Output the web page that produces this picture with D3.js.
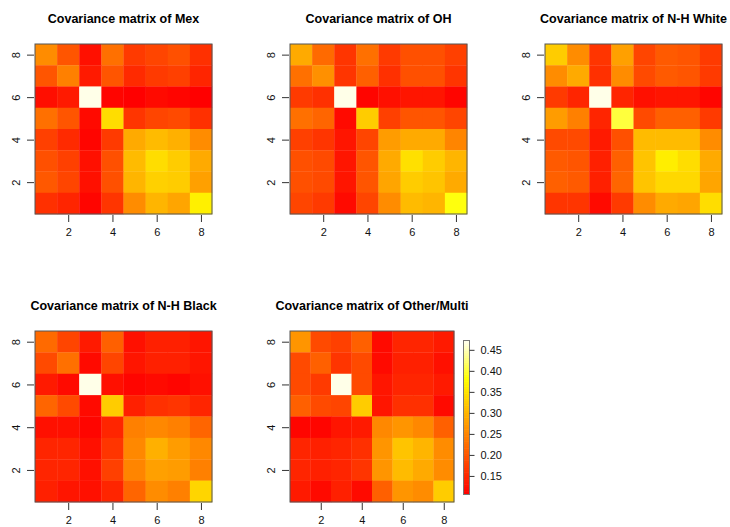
<!DOCTYPE html>
<html>
<head>
<meta charset="utf-8">
<script src="https://cdn.jsdelivr.net/npm/d3@7"></script>
<style>
  body { margin: 0; background: #fff; }
  text { font-family: "Liberation Sans", Arial, sans-serif; }
</style>
</head>
<body>
<svg id="chart" width="730" height="527"></svg>
<script>
// Covariance values, one array per panel, rows listed from top (y = 8) to bottom (y = 1)
const groups = ["Mex", "OH", "N-H White", "N-H Black", "Other/Multi"];

const covMex = [
  [0.257, 0.198, 0.124, 0.227, 0.169, 0.181, 0.193, 0.158],
  [0.198, 0.244, 0.135, 0.198, 0.152, 0.169, 0.175, 0.147],
  [0.122, 0.135, 0.468, 0.112, 0.107, 0.118, 0.112, 0.107],
  [0.227, 0.198, 0.118, 0.344, 0.164, 0.181, 0.186, 0.158],
  [0.175, 0.152, 0.112, 0.169, 0.289, 0.307, 0.295, 0.257],
  [0.193, 0.175, 0.124, 0.193, 0.307, 0.344, 0.325, 0.289],
  [0.201, 0.181, 0.124, 0.193, 0.301, 0.330, 0.325, 0.278],
  [0.158, 0.147, 0.112, 0.164, 0.257, 0.301, 0.284, 0.364]
];
const covOH = [
  [0.289, 0.220, 0.164, 0.227, 0.169, 0.193, 0.193, 0.175],
  [0.227, 0.261, 0.164, 0.210, 0.158, 0.193, 0.193, 0.164],
  [0.169, 0.158, 0.468, 0.112, 0.124, 0.129, 0.129, 0.112],
  [0.227, 0.215, 0.118, 0.325, 0.175, 0.198, 0.198, 0.181],
  [0.175, 0.164, 0.129, 0.181, 0.274, 0.289, 0.289, 0.249],
  [0.193, 0.186, 0.129, 0.198, 0.289, 0.347, 0.325, 0.301],
  [0.193, 0.186, 0.129, 0.198, 0.284, 0.325, 0.317, 0.289],
  [0.181, 0.169, 0.118, 0.181, 0.257, 0.307, 0.301, 0.385]
];
const covWhite = [
  [0.325, 0.257, 0.164, 0.278, 0.181, 0.203, 0.198, 0.169],
  [0.257, 0.289, 0.158, 0.257, 0.186, 0.203, 0.198, 0.169],
  [0.169, 0.147, 0.468, 0.147, 0.124, 0.129, 0.129, 0.112],
  [0.274, 0.244, 0.147, 0.403, 0.186, 0.210, 0.210, 0.169],
  [0.186, 0.186, 0.135, 0.193, 0.307, 0.307, 0.307, 0.257],
  [0.203, 0.198, 0.141, 0.210, 0.317, 0.362, 0.344, 0.289],
  [0.210, 0.203, 0.141, 0.215, 0.317, 0.338, 0.338, 0.284],
  [0.164, 0.164, 0.118, 0.169, 0.257, 0.289, 0.284, 0.344]
];
const covBlack = [
  [0.220, 0.181, 0.135, 0.210, 0.124, 0.141, 0.141, 0.129],
  [0.186, 0.227, 0.118, 0.181, 0.129, 0.141, 0.141, 0.129],
  [0.135, 0.118, 0.468, 0.124, 0.112, 0.118, 0.112, 0.124],
  [0.215, 0.186, 0.118, 0.325, 0.141, 0.158, 0.164, 0.147],
  [0.124, 0.124, 0.112, 0.147, 0.244, 0.253, 0.244, 0.215],
  [0.147, 0.147, 0.124, 0.164, 0.253, 0.295, 0.274, 0.253],
  [0.147, 0.147, 0.124, 0.175, 0.249, 0.278, 0.274, 0.244],
  [0.141, 0.129, 0.124, 0.147, 0.215, 0.257, 0.244, 0.335]
];
const covOther = [
  [0.266, 0.186, 0.175, 0.210, 0.118, 0.147, 0.147, 0.135],
  [0.186, 0.210, 0.164, 0.186, 0.118, 0.141, 0.141, 0.124],
  [0.186, 0.169, 0.468, 0.186, 0.129, 0.147, 0.147, 0.135],
  [0.210, 0.186, 0.181, 0.325, 0.129, 0.158, 0.158, 0.118],
  [0.112, 0.112, 0.129, 0.135, 0.253, 0.266, 0.253, 0.210],
  [0.147, 0.141, 0.147, 0.158, 0.266, 0.317, 0.301, 0.257],
  [0.147, 0.141, 0.147, 0.164, 0.266, 0.307, 0.289, 0.257],
  [0.135, 0.118, 0.141, 0.118, 0.210, 0.266, 0.257, 0.325]
];

const matrices = [covMex, covOH, covWhite, covBlack, covOther];
const axisTicks = [2, 4, 6, 8];
const legendTicks = [0.15, 0.20, 0.25, 0.30, 0.35, 0.40, 0.45];
const zRange = [0.107, 0.471];

//panel boxes in pixels
const panels = [
  {x0: 35, x1: 212, y0: 44, y1: 214},
  {x0: 290, x1: 467, y0: 44, y1: 214},
  {x0: 545, x1: 722, y0: 44, y1: 214},
  {x0: 35, x1: 212, y0: 331, y1: 502},
  {x0: 290, x1: 454, y0: 331, y1: 502}
];

//R style heat.colors: red -> yellow for 3/4, then yellow -> white
function heat(t) {
  t = Math.max(0, Math.min(1, t));
  if (t < 0.75) return d3.hsl(60 * t / 0.75, 1, 0.5).formatHex();
  let s = 1 - (t - 0.75) / 0.25 * 0.94;
  return d3.rgb(255, 255, Math.round(255 * (1 - s))).formatHex();
}
let color = d3.scaleSequential(heat).domain(zRange);

let svg = d3.select("#chart");

matrices.forEach((m, k) => {
  let p = panels[k];
  let xScale = d3.scaleLinear().domain([0.5, 8.5]).range([p.x0, p.x1]);
  let yScale = d3.scaleLinear().domain([0.5, 8.5]).range([p.y1, p.y0]);
  let g = svg.append("g");

  let cells = [];
  m.forEach((row, r) => row.forEach((v, c) => cells.push({x: c + 1, y: 8 - r, v: v})));

  g.selectAll("rect.cell")
    .data(cells)
    .join("rect")
    .attr("class", "cell")
    .attr("x", d => xScale(d.x - 0.5))
    .attr("y", d => yScale(d.y + 0.5))
    .attr("width", xScale(1.5) - xScale(0.5) + 0.3)
    .attr("height", yScale(0.5) - yScale(1.5) + 0.3)
    .attr("fill", d => color(d.v));

  //frame
  g.append("rect")
    .attr("x", p.x0).attr("y", p.y0)
    .attr("width", p.x1 - p.x0).attr("height", p.y1 - p.y0)
    .attr("fill", "none").attr("stroke", "#555").attr("stroke-width", 1);

  //bottom axis
  let xAxis = g.append("g")
    .attr("transform", `translate(0,${p.y1 + 1})`)
    .call(d3.axisBottom(xScale).tickValues(axisTicks).tickSize(7).tickPadding(6).tickFormat(d3.format("d")));
  xAxis.select(".domain").remove();

  //left axis with rotated labels
  let yAxis = g.append("g")
    .attr("transform", `translate(${p.x0 - 1},0)`)
    .call(d3.axisLeft(yScale).tickValues(axisTicks).tickSize(7).tickFormat(d3.format("d")));
  yAxis.select(".domain").remove();
  yAxis.selectAll(".tick text")
    .attr("x", 0).attr("dy", 0)
    .attr("text-anchor", "middle")
    .attr("transform", "translate(-18,0) rotate(-90)")
    .attr("dy", "0.35em");

  g.selectAll(".tick line").attr("stroke", "#333");
  g.selectAll(".tick text").attr("font-size", 11).attr("fill", "#111")
    .style("font-family", "'Liberation Sans', Arial, sans-serif");

  //title
  svg.append("text")
    .attr("x", (p.x0 + p.x1) / 2)
    .attr("y", p.y0 - 21)
    .attr("text-anchor", "middle")
    .attr("font-weight", "bold")
    .attr("font-size", 12.5)
    .text("Covariance matrix of " + groups[k]);
});

//colour legend next to the last panel
let legendScale = d3.scaleLinear().domain(zRange).range([494, 341]);
let lg = svg.append("g");
let steps = d3.range(0, 64).map(i => zRange[0] + (zRange[1] - zRange[0]) * (i + 0.5) / 64);
lg.selectAll("rect.band")
  .data(steps)
  .join("rect")
  .attr("class", "band")
  .attr("x", 464)
  .attr("width", 5)
  .attr("y", d => legendScale(d) - 153 / 128 - 0.3)
  .attr("height", 153 / 64 + 0.6)
  .attr("fill", d => color(d));
lg.append("rect")
  .attr("x", 463.5).attr("y", 340.5).attr("width", 6).attr("height", 154)
  .attr("fill", "none").attr("stroke", "#777");

let legendAxis = lg.append("g")
  .attr("transform", "translate(469.5,0)")
  .call(d3.axisRight(legendScale).tickValues(legendTicks).tickSize(5).tickPadding(6).tickFormat(d3.format(".2f")));
legendAxis.select(".domain").remove();
legendAxis.selectAll(".tick line").attr("stroke", "#333");
legendAxis.selectAll(".tick text").attr("font-size", 11).attr("fill", "#111")
  .style("font-family", "'Liberation Sans', Arial, sans-serif");
</script>
</body>
</html>
